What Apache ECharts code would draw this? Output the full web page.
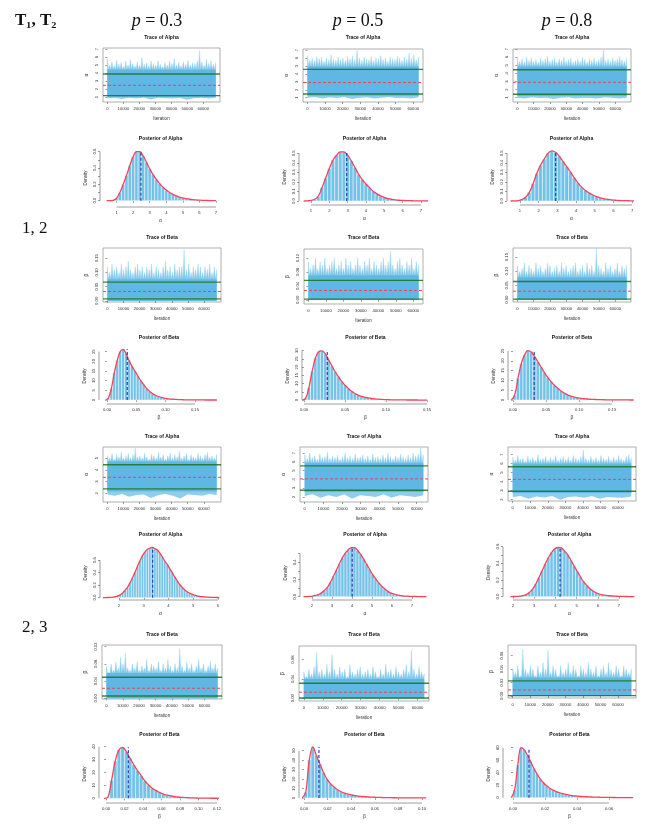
<!DOCTYPE html>
<html>
<head>
<meta charset="utf-8">
<title>MCMC trace and posterior plots</title>
<script src="https://cdn.jsdelivr.net/npm/echarts@6.0.0/dist/echarts.min.js"></script>
<style>
html,body{margin:0;padding:0;background:#ffffff;}
#chart{width:661px;height:833px;}
</style>
</head>
<body>
<div id="chart"></div>
<script>
// ================= labels =================
const pValues = ['0.3', '0.5', '0.8'];
const groupLabels = ['1, 2', '2, 3'];
const cornerLabel = 'T\u2081, T\u2082';
const iterCount = [[67800, 63000, 67000], [68000, 63500, 67500]];
const iterTicks = [0, 10000, 20000, 30000, 40000, 50000, 60000];

// ================= trace plots: spike tops (hi), lower fringe (lo), dense core band, [lower CI, mean, upper CI] =================
const trA_g1_p3_hi = [5.8,5.0,5.4,4.9,5.6,5.1,5.3,4.8,5.5,5.0,5.7,5.2,4.9,5.4,5.0,5.9,5.1,5.3,4.9,5.5,5.2,5.0,5.6,5.1,4.8,5.3,5.0,5.5,5.2,5.8,5.0,5.3,4.9,5.4,5.1,5.6,5.0,5.3,5.2,5.5,6.8,5.4,5.0,5.7,5.2,5.5,5.1,5.3];
const trA_g1_p3_lo = [0.85,0.9,0.75,0.9,0.8,0.95,0.7,0.9,0.85,0.8,0.9,0.65,0.85,0.9,0.8,0.9];
const trA_g1_p3_core = [1.0, 4.4];
const trA_g1_p3_lines = [1.17, 2.46, 3.88];
const trA_g1_p3_range = [0.375, 7.125];
const trA_g1_p3_ticks = [1, 2, 3, 4, 5, 6, 7];

const trA_g1_p5_hi = [6.3,5.8,6.0,5.7,6.2,5.9,6.1,5.6,6.0,5.8,6.4,5.9,5.7,6.1,5.8,6.0,5.7,6.2,5.9,6.3,5.8,7.0,6.0,5.7,6.1,5.9,5.8,6.2,5.7,6.0,5.9,6.3,5.8,6.0,5.6,6.1,5.9,5.8,6.2,6.0,5.7,6.1,5.9,6.6,6.0,6.4,5.8,6.1];
const trA_g1_p5_lo = [1.0,1.1,0.9,1.05,0.95,1.1,0.85,1.0,1.05,0.9,1.0,1.1,0.95,1.0,0.9,1.05];
const trA_g1_p5_core = [1.25, 4.9];
const trA_g1_p5_lines = [1.47, 2.92, 4.57];
const trA_g1_p5_range = [0.46, 7.13];
const trA_g1_p5_ticks = [1, 2, 3, 4, 5, 6, 7];

const trA_g1_p8_hi = [5.9,5.5,5.8,5.4,6.0,5.6,5.9,5.5,5.7,5.4,5.9,5.6,5.8,6.1,5.5,5.7,5.9,5.4,5.8,5.6,6.0,5.5,5.7,5.9,5.4,5.6,5.8,5.5,6.0,5.7,5.4,5.8,5.6,5.9,5.5,5.7,6.0,6.9,5.6,5.8,5.5,5.9,5.6,5.8,6.1,5.7,5.5,5.8];
const trA_g1_p8_lo = [1.0,0.9,1.05,0.95,1.0,0.85,1.0,1.05,0.9,1.0,0.95,0.9,1.05,1.0,0.9,1.0];
const trA_g1_p8_core = [1.2, 4.8];
const trA_g1_p8_lines = [1.42, 2.90, 4.44];
const trA_g1_p8_range = [0.47, 7.0];
const trA_g1_p8_ticks = [1, 2, 3, 4, 5, 6, 7];

const trB_g1_p3_hi = [0.12,0.10,0.13,0.11,0.12,0.10,0.13,0.11,0.12,0.14,0.11,0.10,0.12,0.13,0.11,0.12,0.10,0.12,0.11,0.13,0.10,0.12,0.11,0.10,0.12,0.14,0.11,0.12,0.10,0.13,0.11,0.12,0.12,0.18,0.11,0.13,0.10,0.12,0.11,0.13,0.12,0.10,0.12,0.11,0.13,0.10,0.12,0.11];
const trB_g1_p3_lo = [0.001,0.002,0.001,0.001,0.002,0.001,0.001,0.002,0.001,0.001,0.002,0.001,0.001,0.002,0.001,0.001];
const trB_g1_p3_core = [0.0, 0.075];
const trB_g1_p3_lines = [0.007, 0.033, 0.066];
const trB_g1_p3_range = [-0.004, 0.186];
const trB_g1_p3_ticks = [0, 0.05, 0.10, 0.15];

const trB_g1_p5_hi = [0.11,0.09,0.10,0.12,0.09,0.11,0.10,0.12,0.09,0.10,0.11,0.12,0.09,0.10,0.11,0.09,0.12,0.10,0.11,0.09,0.10,0.12,0.10,0.09,0.11,0.10,0.12,0.09,0.11,0.10,0.09,0.11,0.12,0.10,0.11,0.14,0.10,0.09,0.11,0.12,0.10,0.09,0.11,0.10,0.12,0.09,0.11,0.10];
const trB_g1_p5_lo = [0.001,0.001,0.002,0.001,0.001,0.002,0.001,0.001,0.001,0.002,0.001,0.001,0.002,0.001,0.001,0.001];
const trB_g1_p5_core = [0.0, 0.07];
const trB_g1_p5_lines = [0.002, 0.027, 0.056];
const trB_g1_p5_range = [-0.012, 0.146];
const trB_g1_p5_ticks = [0, 0.04, 0.08, 0.12];

const trB_g1_p8_hi = [0.12,0.10,0.11,0.13,0.10,0.12,0.11,0.10,0.13,0.11,0.12,0.10,0.11,0.13,0.12,0.10,0.11,0.12,0.10,0.13,0.11,0.12,0.10,0.11,0.12,0.13,0.10,0.11,0.12,0.10,0.13,0.11,0.12,0.10,0.18,0.12,0.11,0.10,0.13,0.11,0.12,0.10,0.11,0.13,0.10,0.12,0.11,0.12];
const trB_g1_p8_lo = [0.001,0.002,0.001,0.001,0.001,0.002,0.001,0.001,0.002,0.001,0.001,0.001,0.002,0.001,0.001,0.002];
const trB_g1_p8_core = [0.0, 0.078];
const trB_g1_p8_lines = [0.002, 0.030, 0.064];
const trB_g1_p8_range = [-0.008, 0.182];
const trB_g1_p8_ticks = [0, 0.05, 0.10, 0.15];

const trA_g2_p3_hi = [5.2,5.0,5.4,4.9,5.3,5.1,5.5,5.0,5.2,5.4,5.0,5.3,5.85,5.1,5.2,5.0,5.4,5.1,4.9,5.3,5.2,5.0,5.5,5.1,5.3,4.9,5.2,5.4,5.0,5.3,5.1,5.6,5.0,5.2,5.4,4.9,5.3,5.1,5.0,5.4,5.2,5.0,5.3,5.5,5.1,5.2,5.0,5.3];
const trA_g2_p3_lo = [1.9,1.8,1.95,1.7,1.85,1.9,1.6,1.85,1.95,1.8,1.55,1.9,1.85,1.8,1.95,1.85];
const trA_g2_p3_core = [2.15, 4.7];
const trA_g2_p3_lines = [2.38, 3.36, 4.43];
const trA_g2_p3_range = [1.26, 5.94];
const trA_g2_p3_ticks = [2, 3, 4, 5];

const trA_g2_p5_hi = [6.8,6.4,7.0,6.5,6.7,6.3,6.9,6.5,6.6,7.1,6.4,6.7,6.5,6.8,6.3,6.6,7.0,6.5,6.7,6.4,6.9,6.5,6.6,6.8,6.4,6.7,6.3,6.9,6.5,6.6,6.4,6.8,6.5,7.0,6.6,6.4,6.7,6.5,6.9,6.6,6.4,6.8,6.5,7.0,6.7,6.9,7.6,6.8];
const trA_g2_p5_lo = [2.1,2.3,1.9,2.2,2.0,2.3,1.8,2.2,2.1,2.0,2.3,1.9,2.2,2.1,2.0,2.2];
const trA_g2_p5_core = [2.55, 5.85];
const trA_g2_p5_lines = [2.77, 4.06, 5.54];
const trA_g2_p5_range = [1.42, 7.7];
const trA_g2_p5_ticks = [2, 3, 4, 5, 6, 7];

const trA_g2_p8_hi = [6.7,6.4,6.9,6.5,6.6,6.3,6.8,6.5,6.7,6.4,7.0,6.5,6.6,6.8,6.4,6.7,6.5,6.9,6.4,6.6,6.8,6.5,6.7,6.4,6.9,6.6,6.5,6.8,7.5,6.6,6.4,6.8,6.5,6.7,6.4,6.9,6.6,6.5,6.8,6.4,6.7,6.5,6.9,6.6,6.4,6.8,7.0,6.6];
const trA_g2_p8_lo = [2.3,2.4,2.1,2.35,2.25,2.4,2.0,2.3,2.35,2.2,2.4,2.1,2.3,2.25,2.2,2.35];
const trA_g2_p8_core = [2.75, 6.0];
const trA_g2_p8_lines = [2.94, 4.25, 5.65];
const trA_g2_p8_range = [1.85, 7.85];
const trA_g2_p8_ticks = [2, 3, 4, 5, 6, 7];

const trB_g2_p3_hi = [0.075,0.06,0.08,0.065,0.085,0.07,0.095,0.08,0.105,0.07,0.065,0.08,0.07,0.085,0.065,0.075,0.07,0.09,0.065,0.08,0.075,0.07,0.085,0.065,0.08,0.07,0.09,0.075,0.065,0.08,0.07,0.115,0.075,0.065,0.085,0.07,0.08,0.065,0.075,0.09,0.07,0.08,0.065,0.075,0.085,0.07,0.08,0.07];
const trB_g2_p3_lo = [0.001,0.0005,0.001,0.0008,0.0005,0.001,0.0007,0.001,0.0005,0.001,0.0008,0.0006,0.001,0.0005,0.0009,0.001];
const trB_g2_p3_core = [0.0, 0.058];
const trB_g2_p3_lines = [0.0053, 0.0233, 0.0488];
const trB_g2_p3_range = [-0.0016, 0.1236];
const trB_g2_p3_ticks = [0, 0.04, 0.08, 0.12];

const trB_g2_p5_hi = [0.055,0.045,0.06,0.05,0.065,0.095,0.055,0.06,0.05,0.07,0.055,0.09,0.06,0.05,0.065,0.055,0.06,0.045,0.07,0.055,0.05,0.06,0.065,0.05,0.055,0.06,0.05,0.065,0.055,0.045,0.06,0.05,0.07,0.055,0.06,0.05,0.065,0.055,0.05,0.06,0.07,0.055,0.10,0.06,0.05,0.065,0.055,0.05];
const trB_g2_p5_lo = [0.0005,0.001,0.0005,0.0008,0.001,0.0005,0.0007,0.001,0.0005,0.0008,0.001,0.0005,0.0006,0.001,0.0005,0.0008];
const trB_g2_p5_core = [0.0, 0.04];
const trB_g2_p5_lines = [0.0005, 0.0125, 0.031];
const trB_g2_p5_range = [-0.0056, 0.108];
const trB_g2_p5_ticks = [0, 0.04, 0.08];

const trB_g2_p8_hi = [0.04,0.035,0.045,0.03,0.07,0.04,0.035,0.045,0.04,0.03,0.045,0.035,0.05,0.04,0.068,0.035,0.045,0.04,0.03,0.045,0.035,0.04,0.05,0.035,0.045,0.04,0.03,0.045,0.04,0.035,0.05,0.04,0.035,0.045,0.03,0.04,0.045,0.035,0.05,0.04,0.035,0.045,0.04,0.03,0.045,0.04,0.035,0.04];
const trB_g2_p8_lo = [0.0004,0.0006,0.0003,0.0005,0.0004,0.0006,0.0003,0.0005,0.0004,0.0006,0.0003,0.0005,0.0004,0.0006,0.0003,0.0005];
const trB_g2_p8_core = [0.0, 0.027];
const trB_g2_p8_lines = [0.0005, 0.009, 0.0226];
const trB_g2_p8_range = [-0.003, 0.076];
const trB_g2_p8_ticks = [0, 0.02, 0.04, 0.06];

// ================= posterior histograms =================
const poA_g1_p3_dens = [0,0,0.005,0.03,0.10,0.20,0.31,0.43,0.54,0.60,0.60,0.55,0.47,0.39,0.32,0.26,0.21,0.165,0.13,0.10,0.078,0.06,0.045,0.034,0.025,0.018,0.013,0.009,0.006,0.004,0.003,0.002,0.001,0.001];
const poA_g1_p3_bins = [0.3, 0.2];
const poA_g1_p3_mean = 2.47;
const poA_g1_p3_xr = [0, 7.3];
const poA_g1_p3_yr = [-0.077, 0.633];
const poA_g1_p3_xt = [1, 2, 3, 4, 5, 6, 7];
const poA_g1_p3_yt = [0, 0.1, 0.2, 0.3, 0.4, 0.5, 0.6];
const poA_g1_p3_yl = [0, 0.2, 0.4, 0.6];

const poA_g1_p5_dens = [0,0.002,0.006,0.018,0.05,0.14,0.24,0.34,0.43,0.48,0.515,0.515,0.48,0.42,0.35,0.28,0.225,0.178,0.138,0.10,0.075,0.054,0.038,0.026,0.018,0.012,0.008,0.006,0.004,0.003,0.002,0.0015,0.001,0.001,0.0005];
const poA_g1_p5_bins = [0.5, 0.2];
const poA_g1_p5_mean = 2.95;
const poA_g1_p5_xr = [0.344, 7.5];
const poA_g1_p5_yr = [-0.042, 0.545];
const poA_g1_p5_xt = [1, 2, 3, 4, 5, 6, 7];
const poA_g1_p5_yt = [0, 0.1, 0.2, 0.3, 0.4, 0.5];
const poA_g1_p5_yl = [0, 0.1, 0.2, 0.3, 0.4, 0.5];

const poA_g1_p8_dens = [0,0.001,0.004,0.015,0.04,0.09,0.18,0.29,0.375,0.44,0.50,0.525,0.51,0.47,0.415,0.36,0.305,0.245,0.19,0.145,0.11,0.085,0.063,0.046,0.033,0.023,0.016,0.011,0.008,0.005,0.004,0.003,0.002,0.001];
const poA_g1_p8_bins = [0.4, 0.2];
const poA_g1_p8_mean = 2.91;
const poA_g1_p8_xr = [0.304, 7.21];
const poA_g1_p8_yr = [-0.042, 0.545];
const poA_g1_p8_xt = [1, 2, 3, 4, 5, 6, 7];
const poA_g1_p8_yt = [0, 0.1, 0.2, 0.3, 0.4, 0.5];
const poA_g1_p8_yl = [0, 0.1, 0.2, 0.3, 0.4, 0.5];

const poB_g1_p3_dens = [0,1.0,6.0,14.0,20.5,25.0,26.2,24.0,20.5,17.5,15.0,12.5,10.0,8.0,6.0,4.5,3.3,2.5,1.8,1.3,0.95,0.7,0.5,0.38,0.28,0.2,0.15,0.1,0.08,0.06,0.04,0.03,0.02,0.015,0.01,0.008,0.005,0.003,0.002];
const poB_g1_p3_bins = [-0.005, 0.005];
const poB_g1_p3_mean = 0.0346;
const poB_g1_p3_xr = [-0.0136, 0.191];
const poB_g1_p3_yr = [-2.07, 26.9];
const poB_g1_p3_xt = [0, 0.05, 0.10, 0.15];
const poB_g1_p3_yt = [0, 5, 10, 15, 20, 25];
const poB_g1_p3_yl = [0, 5, 10, 15, 20, 25];

const poB_g1_p5_dens = [0,1.0,7.5,17.5,25.5,29.3,29.8,28.0,24.5,20.8,17.2,14.2,11.4,9.0,7.0,5.3,4.0,3.0,2.3,1.7,1.3,0.95,0.7,0.52,0.4,0.3,0.22,0.16,0.12,0.09,0.07,0.05,0.04,0.03,0.02,0.015,0.01,0.007,0.005];
const poB_g1_p5_bins = [-0.004, 0.004];
const poB_g1_p5_mean = 0.0284;
const poB_g1_p5_xr = [-0.0024, 0.1524];
const poB_g1_p5_yr = [-2.4, 31.6];
const poB_g1_p5_xt = [0, 0.05, 0.10, 0.15];
const poB_g1_p5_yt = [0, 5, 10, 15, 20, 25, 30];
const poB_g1_p5_yl = [0, 5, 10, 15, 20, 25, 30];

const poB_g1_p8_dens = [0,2.5,11.0,18.5,23.0,25.2,24.5,22.2,19.5,16.8,14.0,11.5,9.4,7.5,6.0,4.6,3.5,2.6,2.0,1.5,1.15,0.85,0.65,0.5,0.38,0.28,0.21,0.16,0.12,0.09,0.07,0.05,0.04,0.03,0.02,0.015,0.01,0.005];
const poB_g1_p8_bins = [-0.005, 0.005];
const poB_g1_p8_mean = 0.032;
const poB_g1_p8_xr = [-0.0076, 0.186];
const poB_g1_p8_yr = [-2.04, 26.5];
const poB_g1_p8_xt = [0, 0.05, 0.10, 0.15];
const poB_g1_p8_yt = [0, 5, 10, 15, 20, 25];
const poB_g1_p8_yl = [0, 5, 10, 15, 20, 25];

const poA_g2_p3_dens = [0.002,0.002,0.003,0.005,0.009,0.016,0.028,0.045,0.075,0.12,0.17,0.24,0.32,0.41,0.50,0.59,0.67,0.73,0.77,0.79,0.80,0.78,0.76,0.71,0.65,0.58,0.53,0.46,0.40,0.33,0.27,0.21,0.165,0.125,0.095,0.072,0.055,0.04,0.03,0.022,0.016,0.012,0.009,0.007,0.005,0.004,0.003,0.002];
const poA_g2_p3_bins = [1.3, 0.1];
const poA_g2_p3_mean = 3.36;
const poA_g2_p3_xr = [1.232, 6.12];
const poA_g2_p3_yr = [-0.037, 0.823];
const poA_g2_p3_xt = [2, 3, 4, 5, 6];
const poA_g2_p3_yt = [0, 0.2, 0.4, 0.6];
const poA_g2_p3_yl = [0, 0.2, 0.4, 0.6];

const poA_g2_p5_dens = [0.001,0.002,0.004,0.008,0.015,0.025,0.045,0.075,0.11,0.17,0.24,0.31,0.385,0.455,0.51,0.55,0.572,0.572,0.54,0.495,0.44,0.38,0.32,0.26,0.21,0.165,0.125,0.095,0.065,0.045,0.032,0.022,0.015,0.011,0.008,0.006,0.004,0.003,0.002,0.0015,0.001,0.001];
const poA_g2_p5_bins = [1.5, 0.15];
const poA_g2_p5_mean = 4.01;
const poA_g2_p5_xr = [1.4, 7.9];
const poA_g2_p5_yr = [-0.038, 0.59];
const poA_g2_p5_xt = [2, 3, 4, 5, 6, 7];
const poA_g2_p5_yt = [0, 0.1, 0.2, 0.3, 0.4, 0.5];
const poA_g2_p5_yl = [0, 0.2, 0.4];

const poA_g2_p8_dens = [0.001,0.002,0.003,0.006,0.012,0.025,0.05,0.09,0.15,0.23,0.31,0.395,0.47,0.53,0.575,0.59,0.585,0.55,0.505,0.44,0.37,0.305,0.24,0.18,0.135,0.095,0.068,0.045,0.032,0.022,0.016,0.011,0.008,0.006,0.004,0.003,0.002,0.0015,0.001,0.001];
const poA_g2_p8_bins = [1.8, 0.15];
const poA_g2_p8_mean = 4.22;
const poA_g2_p8_xr = [1.53, 7.8];
const poA_g2_p8_yr = [-0.04, 0.62];
const poA_g2_p8_xt = [2, 3, 4, 5, 6, 7];
const poA_g2_p8_yt = [0, 0.1, 0.2, 0.3, 0.4, 0.5, 0.6];
const poA_g2_p8_yl = [0, 0.2, 0.4, 0.6];

const poB_g2_p3_dens = [0,0.8,14,29,37.5,39.5,36,31,26,21.5,17.5,13.5,10.3,7.8,6.0,4.5,3.3,2.5,1.9,1.4,1.05,0.8,0.6,0.45,0.35,0.27,0.2,0.15,0.12,0.09,0.07,0.05];
const poB_g2_p3_bins = [-0.004, 0.004];
const poB_g2_p3_mean = 0.0241;
const poB_g2_p3_xr = [-0.0076, 0.1232];
const poB_g2_p3_yr = [-3.6, 41.3];
const poB_g2_p3_xt = [0, 0.02, 0.04, 0.06, 0.08, 0.10, 0.12];
const poB_g2_p3_yt = [0, 10, 20, 30, 40];
const poB_g2_p3_yl = [0, 10, 20, 30, 40];

const poB_g2_p5_dens = [0,6,40,54,45,36,27,20,15,11.5,8.7,6.6,5.1,4.0,3.2,2.5,2.0,1.6,1.3,1.05,0.85,0.7,0.55,0.45,0.37,0.3,0.25,0.2,0.17,0.14,0.12,0.1,0.08,0.07,0.06,0.05];
const poB_g2_p5_bins = [-0.003, 0.003];
const poB_g2_p5_mean = 0.0127;
const poB_g2_p5_xr = [-0.0042, 0.1068];
const poB_g2_p5_yr = [-5.3, 56];
const poB_g2_p5_xt = [0, 0.02, 0.04, 0.06, 0.08, 0.10];
const poB_g2_p5_yt = [0, 10, 20, 30, 40, 50];
const poB_g2_p5_yl = [0, 10, 20, 30, 40, 50];

const poB_g2_p8_dens = [0,12,52,80,77,68,58,47,38,30,24,19,15,12,9.8,8.0,6.4,5.2,4.2,3.4,2.8,2.3,1.9,1.6,1.3,1.1,0.9,0.75,0.62,0.52,0.44,0.37,0.31,0.26,0.22,0.19,0.16,0.14,0.12];
const poB_g2_p8_bins = [-0.002, 0.002];
const poB_g2_p8_mean = 0.0100;
const poB_g2_p8_xr = [-0.00625, 0.0769];
const poB_g2_p8_yr = [-8.5, 84.3];
const poB_g2_p8_xt = [0, 0.02, 0.04, 0.06];
const poB_g2_p8_yt = [0, 20, 40, 60, 80];
const poB_g2_p8_yl = [0, 20, 40, 60, 80];

// ================= layout (pixels) =================
const TRACE_BOX = {
  A: [[103,48,117,54],[303,49,120,53],[513,49,118,53]],
  C: [[103,248,118,54],[304,249,119,55],[513,248,118,54]],
  E: [[103,447,118,55],[300,447,128,55],[508,447,128,54]],
  G: [[102,645,120,54],[299,646,130,55],[508,645,128,53]]
};
const POST_BOX = {
  B: [[100,149,121,58],[299,149,131,56],[507,149,129,56]],
  D: [[99,348,120,56],[302,348,127,56],[508,348,128,56]],
  F: [[100,546,121,54],[300,546,130,54],[503,545,133,55]],
  H: [[99,745,121,58],[299,745,131,58],[503,745,133,58]]
};
const TITLE_Y = {A:38, B:139, C:238, D:338, E:437, F:535, G:635, H:735};
const HEADER_X = [157, 358, 567];

// ================= styles =================
const C_CORE = '#5fb7e3', C_SPIKE_LOW = '#7cc5ea', C_SPIKE_TOP = '#cdeaf8', C_FRINGE = '#8fcdee';
const C_HIST = '#74c2e8', C_CURVE = '#f5435a', C_GREEN = 'rgba(28,115,28,0.85)';
const C_MEANT = '#f0405a', C_MEANP = '#2832b0', C_AXIS = '#5a5a5a', C_TXT = '#333';
const LABEL_FONT = 4.2, NAME_FONT = 4.5;
const SANS = '"Liberation Sans", Arial, sans-serif';
const SERIF = '"Liberation Serif", "DejaVu Serif", serif';
const fmt = d => v => Number(v).toFixed(d);

// ================= panel lists =================
function tr(row, col, gi, par, hi, lo, core, lines, yr, yt) {
  return {row, col, n: iterCount[gi][col], title: par === 'a' ? 'Trace of Alpha' : 'Trace of Beta',
    sym: par === 'a' ? '\u03b1' : '\u03b2', dec: par === 'a' ? 0 : 2, hi, lo, core, lines, yr, yt};
}
function po(row, col, par, dens, bins, mean, xr, yr, xt, yt, yl) {
  return {row, col, title: par === 'a' ? 'Posterior of Alpha' : 'Posterior of Beta',
    sym: par === 'a' ? '\u03b1' : '\u03b2', xdec: par === 'a' ? 0 : 2, ydec: par === 'a' ? 1 : 0,
    dens, bins, mean, xr, yr, xt, yt, yl};
}
const traceSpecs = [
  tr('A',0,0,'a',trA_g1_p3_hi,trA_g1_p3_lo,trA_g1_p3_core,trA_g1_p3_lines,trA_g1_p3_range,trA_g1_p3_ticks),
  tr('A',1,0,'a',trA_g1_p5_hi,trA_g1_p5_lo,trA_g1_p5_core,trA_g1_p5_lines,trA_g1_p5_range,trA_g1_p5_ticks),
  tr('A',2,0,'a',trA_g1_p8_hi,trA_g1_p8_lo,trA_g1_p8_core,trA_g1_p8_lines,trA_g1_p8_range,trA_g1_p8_ticks),
  tr('C',0,0,'b',trB_g1_p3_hi,trB_g1_p3_lo,trB_g1_p3_core,trB_g1_p3_lines,trB_g1_p3_range,trB_g1_p3_ticks),
  tr('C',1,0,'b',trB_g1_p5_hi,trB_g1_p5_lo,trB_g1_p5_core,trB_g1_p5_lines,trB_g1_p5_range,trB_g1_p5_ticks),
  tr('C',2,0,'b',trB_g1_p8_hi,trB_g1_p8_lo,trB_g1_p8_core,trB_g1_p8_lines,trB_g1_p8_range,trB_g1_p8_ticks),
  tr('E',0,1,'a',trA_g2_p3_hi,trA_g2_p3_lo,trA_g2_p3_core,trA_g2_p3_lines,trA_g2_p3_range,trA_g2_p3_ticks),
  tr('E',1,1,'a',trA_g2_p5_hi,trA_g2_p5_lo,trA_g2_p5_core,trA_g2_p5_lines,trA_g2_p5_range,trA_g2_p5_ticks),
  tr('E',2,1,'a',trA_g2_p8_hi,trA_g2_p8_lo,trA_g2_p8_core,trA_g2_p8_lines,trA_g2_p8_range,trA_g2_p8_ticks),
  tr('G',0,1,'b',trB_g2_p3_hi,trB_g2_p3_lo,trB_g2_p3_core,trB_g2_p3_lines,trB_g2_p3_range,trB_g2_p3_ticks),
  tr('G',1,1,'b',trB_g2_p5_hi,trB_g2_p5_lo,trB_g2_p5_core,trB_g2_p5_lines,trB_g2_p5_range,trB_g2_p5_ticks),
  tr('G',2,1,'b',trB_g2_p8_hi,trB_g2_p8_lo,trB_g2_p8_core,trB_g2_p8_lines,trB_g2_p8_range,trB_g2_p8_ticks)
];
const postSpecs = [
  po('B',0,'a',poA_g1_p3_dens,poA_g1_p3_bins,poA_g1_p3_mean,poA_g1_p3_xr,poA_g1_p3_yr,poA_g1_p3_xt,poA_g1_p3_yt,poA_g1_p3_yl),
  po('B',1,'a',poA_g1_p5_dens,poA_g1_p5_bins,poA_g1_p5_mean,poA_g1_p5_xr,poA_g1_p5_yr,poA_g1_p5_xt,poA_g1_p5_yt,poA_g1_p5_yl),
  po('B',2,'a',poA_g1_p8_dens,poA_g1_p8_bins,poA_g1_p8_mean,poA_g1_p8_xr,poA_g1_p8_yr,poA_g1_p8_xt,poA_g1_p8_yt,poA_g1_p8_yl),
  po('D',0,'b',poB_g1_p3_dens,poB_g1_p3_bins,poB_g1_p3_mean,poB_g1_p3_xr,poB_g1_p3_yr,poB_g1_p3_xt,poB_g1_p3_yt,poB_g1_p3_yl),
  po('D',1,'b',poB_g1_p5_dens,poB_g1_p5_bins,poB_g1_p5_mean,poB_g1_p5_xr,poB_g1_p5_yr,poB_g1_p5_xt,poB_g1_p5_yt,poB_g1_p5_yl),
  po('D',2,'b',poB_g1_p8_dens,poB_g1_p8_bins,poB_g1_p8_mean,poB_g1_p8_xr,poB_g1_p8_yr,poB_g1_p8_xt,poB_g1_p8_yt,poB_g1_p8_yl),
  po('F',0,'a',poA_g2_p3_dens,poA_g2_p3_bins,poA_g2_p3_mean,poA_g2_p3_xr,poA_g2_p3_yr,poA_g2_p3_xt,poA_g2_p3_yt,poA_g2_p3_yl),
  po('F',1,'a',poA_g2_p5_dens,poA_g2_p5_bins,poA_g2_p5_mean,poA_g2_p5_xr,poA_g2_p5_yr,poA_g2_p5_xt,poA_g2_p5_yt,poA_g2_p5_yl),
  po('F',2,'a',poA_g2_p8_dens,poA_g2_p8_bins,poA_g2_p8_mean,poA_g2_p8_xr,poA_g2_p8_yr,poA_g2_p8_xt,poA_g2_p8_yt,poA_g2_p8_yl),
  po('H',0,'b',poB_g2_p3_dens,poB_g2_p3_bins,poB_g2_p3_mean,poB_g2_p3_xr,poB_g2_p3_yr,poB_g2_p3_xt,poB_g2_p3_yt,poB_g2_p3_yl),
  po('H',1,'b',poB_g2_p5_dens,poB_g2_p5_bins,poB_g2_p5_mean,poB_g2_p5_xr,poB_g2_p5_yr,poB_g2_p5_xt,poB_g2_p5_yt,poB_g2_p5_yl),
  po('H',2,'b',poB_g2_p8_dens,poB_g2_p8_bins,poB_g2_p8_mean,poB_g2_p8_xr,poB_g2_p8_yr,poB_g2_p8_xt,poB_g2_p8_yt,poB_g2_p8_yl)
];

// ================= build option =================
const option = {animation: false, backgroundColor: '#ffffff', grid: [], xAxis: [], yAxis: [], series: [], graphic: []};

function text(x, y, str, font, alignH, extra) {
  const a = alignH || 'center';
  return Object.assign({type: 'text', x: x, y: y, silent: true, z: 100,
    style: Object.assign({text: str, font: font, fill: '#111', align: a, verticalAlign: 'middle'}, extra || {})});
}
function tickStyle() { return {show: true, length: 2, inside: false, lineStyle: {color: C_AXIS, width: 0.6}}; }

// upper spikes: each sampled extreme rises from the dense core band
function spikePath(api, vals, n, base) {
  const pts = [];
  const step = n / (vals.length - 1);
  vals.forEach((v, i) => {
    const x = step * i;
    pts.push(api.coord([x, v]));
    if (i < vals.length - 1) pts.push(api.coord([x + step / 2, base]));
  });
  return pts;
}
// lower fringe: plain outline through the sampled minima
function edgePath(api, vals, n) {
  const step = n / (vals.length - 1);
  return vals.map((v, i) => api.coord([step * i, v]));
}

traceSpecs.forEach(s => {
  const box = TRACE_BOX[s.row][s.col];
  const gi = option.grid.length;
  option.grid.push({left: box[0], top: box[1], width: box[2], height: box[3], show: true,
    borderColor: '#8c8c8c', borderWidth: 0.7, backgroundColor: 'rgba(0,0,0,0)', containLabel: false, outerBoundsMode: 'none'});
  const xmin = -0.04 * s.n, xmax = 1.04 * s.n;
  option.xAxis.push({gridIndex: gi, type: 'value', min: xmin, max: xmax, axisLine: {show: false}, splitLine: {show: false},
    axisTick: Object.assign(tickStyle(), {customValues: iterTicks}),
    axisLabel: {customValues: iterTicks, fontSize: LABEL_FONT, fontFamily: SANS, color: C_TXT, margin: 4.5, formatter: v => String(Math.round(v))},
    name: 'Iteration', nameLocation: 'middle', nameGap: 14.5, nameMoveOverlap: false,
    nameTextStyle: {fontSize: NAME_FONT, fontFamily: SANS, color: C_TXT}});
  option.yAxis.push({gridIndex: gi, type: 'value', min: s.yr[0], max: s.yr[1], axisLine: {show: false}, splitLine: {show: false},
    axisTick: Object.assign(tickStyle(), {customValues: s.yt}),
    axisLabel: {customValues: s.yt, rotate: 90, fontSize: LABEL_FONT, fontFamily: SANS, color: C_TXT, margin: 4, formatter: fmt(s.dec)},
    name: s.sym, nameLocation: 'middle', nameGap: 13.5, nameMoveOverlap: false,
    nameTextStyle: {fontSize: NAME_FONT + 0.5, fontFamily: SANS, color: C_TXT}});
  option.series.push({type: 'custom', xAxisIndex: gi, yAxisIndex: gi, clip: true, silent: true, z: 2,
    data: [[0, s.lines[1]]],
    renderItem: (params, api) => {
      const up = spikePath(api, s.hi, s.n, s.core[1]);
      const cTop = api.coord([0, s.core[1]]), cBot = api.coord([s.n, s.core[0]]);
      const upper = up.concat([api.coord([s.n, s.core[0]]), api.coord([0, s.core[0]])]);
      const lower = [api.coord([0, s.core[0]])].concat(edgePath(api, s.lo, s.n), [api.coord([s.n, s.core[0]])]);
      const yPeak = Math.min.apply(null, up.map(p => p[1]));
      const cs = params.coordSys;
      const xL = cs.x, xR = cs.x + cs.width;
      const ly = v => api.coord([0, v])[1];
      const grad = new echarts.graphic.LinearGradient(0, yPeak, 0, cTop[1],
        [{offset: 0, color: C_SPIKE_TOP}, {offset: 1, color: C_SPIKE_LOW}], true);
      return {type: 'group', children: [
        {type: 'polygon', shape: {points: upper}, style: {fill: grad, stroke: C_SPIKE_LOW, lineWidth: 0.3}},
        {type: 'polygon', shape: {points: lower}, style: {fill: C_FRINGE}},
        {type: 'rect', shape: {x: cTop[0], y: cTop[1], width: cBot[0] - cTop[0], height: cBot[1] - cTop[1]}, style: {fill: C_CORE}},
        {type: 'line', shape: {x1: xL, y1: ly(s.lines[0]), x2: xR, y2: ly(s.lines[0])}, style: {stroke: C_GREEN, lineWidth: 1.4}},
        {type: 'line', shape: {x1: xL, y1: ly(s.lines[2]), x2: xR, y2: ly(s.lines[2])}, style: {stroke: C_GREEN, lineWidth: 1.4}},
        {type: 'line', shape: {x1: xL, y1: ly(s.lines[1]), x2: xR, y2: ly(s.lines[1])}, style: {stroke: C_MEANT, lineWidth: 1, lineDash: [3, 2]}}
      ]};
    }});
  option.graphic.push(text(box[0] + box[2] / 2, TITLE_Y[s.row], s.title, 'bold 5px ' + SANS));
});

postSpecs.forEach(s => {
  const box = POST_BOX[s.row][s.col];
  const gi = option.grid.length;
  option.grid.push({left: box[0], top: box[1], width: box[2], height: box[3], show: false, containLabel: false, outerBoundsMode: 'none'});
  option.xAxis.push({gridIndex: gi, type: 'value', min: s.xr[0], max: s.xr[1], axisLine: {show: false}, splitLine: {show: false},
    axisTick: Object.assign(tickStyle(), {customValues: s.xt}),
    axisLabel: {customValues: s.xt, fontSize: LABEL_FONT, fontFamily: SANS, color: C_TXT, margin: 3.5, formatter: fmt(s.xdec)},
    name: s.sym, nameLocation: 'middle', nameGap: 11.5, nameMoveOverlap: false,
    nameTextStyle: {fontSize: NAME_FONT + 0.5, fontFamily: SANS, color: C_TXT}});
  option.yAxis.push({gridIndex: gi, type: 'value', min: s.yr[0], max: s.yr[1], axisLine: {show: false}, splitLine: {show: false},
    axisTick: Object.assign(tickStyle(), {customValues: s.yt}),
    axisLabel: {customValues: s.yl, rotate: 90, fontSize: LABEL_FONT, fontFamily: SANS, color: C_TXT, margin: 3.5, formatter: fmt(s.ydec)},
    name: 'Density', nameLocation: 'middle', nameGap: 11.5, nameMoveOverlap: false,
    nameTextStyle: {fontSize: NAME_FONT, fontFamily: SANS, color: C_TXT}});
  const w = s.bins[1], x0 = s.bins[0];
  option.series.push({type: 'custom', xAxisIndex: gi, yAxisIndex: gi, clip: true, silent: true, z: 2,
    data: s.dens.map((d, i) => [x0 + i * w, x0 + (i + 1) * w, d]),
    renderItem: (params, api) => {
      const a = api.coord([api.value(0), api.value(2)]);
      const b = api.coord([api.value(1), 0]);
      return {type: 'rect', shape: {x: a[0], y: a[1], width: b[0] - a[0], height: b[1] - a[1]},
        style: {fill: C_HIST, stroke: '#ffffff', lineWidth: 0.45}};
    }});
  option.series.push({type: 'line', xAxisIndex: gi, yAxisIndex: gi, silent: true, z: 3, clip: true,
    data: s.dens.map((d, i) => [x0 + (i + 0.5) * w, d]), smooth: 0.35, symbol: 'none', showSymbol: false,
    lineStyle: {color: C_CURVE, width: 1.3}});
  const peak = Math.max.apply(null, s.dens);
  option.series.push({type: 'line', xAxisIndex: gi, yAxisIndex: gi, silent: true, z: 4,
    data: [[s.mean, 0], [s.mean, peak]], symbol: 'none', showSymbol: false,
    lineStyle: {color: C_MEANP, width: 1.1, type: [3, 2]}});
  option.series.push({type: 'custom', xAxisIndex: gi, yAxisIndex: gi, clip: false, silent: true, z: 5,
    data: [[s.xr[0], s.yr[0]]],
    renderItem: (params, api) => {
      const a = api.coord([s.xt[0], s.yr[0]]), b = api.coord([s.xt[s.xt.length - 1], s.yr[0]]);
      const c = api.coord([s.xr[0], s.yt[0]]), d = api.coord([s.xr[0], s.yt[s.yt.length - 1]]);
      return {type: 'group', children: [
        {type: 'line', shape: {x1: a[0], y1: a[1], x2: b[0], y2: b[1]}, style: {stroke: C_AXIS, lineWidth: 0.6}},
        {type: 'line', shape: {x1: c[0], y1: c[1], x2: d[0], y2: d[1]}, style: {stroke: C_AXIS, lineWidth: 0.6}}
      ]};
    }});
  option.graphic.push(text(box[0] + box[2] / 2, TITLE_Y[s.row], s.title, 'bold 5px ' + SANS));
});

// headers and row-group labels
option.graphic.push(text(15, 21, cornerLabel, 'bold 17px ' + SERIF, 'left'));
pValues.forEach((p, i) => {
  option.graphic.push({type: 'text', x: HEADER_X[i], y: 21, silent: true, z: 100,
    style: {text: '{i|p}{n| = ' + p + '}', align: 'center', verticalAlign: 'middle',
      rich: {i: {fontFamily: SERIF, fontStyle: 'italic', fontSize: 18, fill: '#111'},
             n: {fontFamily: SERIF, fontSize: 18, fill: '#111'}}}});
});
option.graphic.push(text(22, 229, groupLabels[0], '17px ' + SERIF, 'left'));
option.graphic.push(text(22, 628, groupLabels[1], '17px ' + SERIF, 'left'));

const chart = echarts.init(document.getElementById('chart'), null, {renderer: 'canvas', width: 661, height: 833});
chart.setOption(option);
</script>
</body>
</html>
